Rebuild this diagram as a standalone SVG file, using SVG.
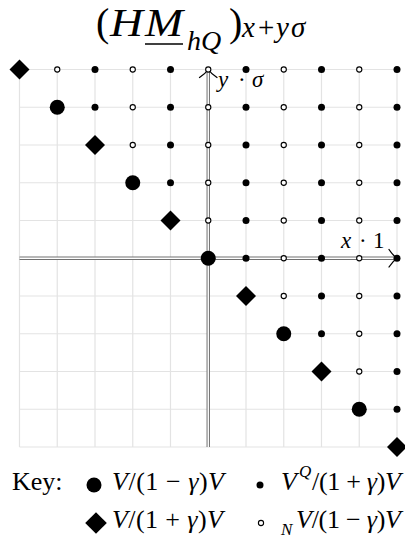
<svg xmlns="http://www.w3.org/2000/svg" xmlns:xlink="http://www.w3.org/1999/xlink" width="405" height="541" viewBox="0 0 405 541">
<style>
.grid line{stroke:#e3e3e3;stroke-width:1.2}
.ax1{stroke:#707070;stroke-width:3.4;fill:none}
.ax2{stroke:#ffffff;stroke-width:1.4;fill:none}
.arr{stroke:#000;stroke-width:1.3;fill:none;stroke-linecap:round}
.t{font-family:"Liberation Serif","Times New Roman",serif;fill:#000}
.i{font-style:italic}
</style>
<defs>
<path id="dia" d="M0,-10 L10,0 L0,10 L-10,0 Z" fill="#000"/>
<circle id="big" r="7.5" fill="#000"/>
<circle id="dot" r="3.5" fill="#000"/>
<circle id="opn" r="2.6" fill="#fff" stroke="#000" stroke-width="1.1"/>
</defs>
<rect width="405" height="541" fill="#fff"/>
<g id="title" class="t">
<text x="96" y="36" font-size="40">(</text>
<text x="110" y="36" font-size="40" class="i" textLength="33" lengthAdjust="spacingAndGlyphs">H</text>
<text x="145" y="36" font-size="40" class="i" textLength="38" lengthAdjust="spacingAndGlyphs">M</text>
<line x1="145" y1="44" x2="183" y2="44" stroke="#000" stroke-width="1.6"/>
<text y="50" font-size="28" class="i"><tspan x="187">h</tspan><tspan x="201">Q</tspan></text>
<text x="229" y="36" font-size="40">)</text>
<text y="37" font-size="29"><tspan x="242" class="i">x</tspan><tspan x="258">+</tspan><tspan x="276" class="i">y</tspan><tspan x="291" class="i">σ</tspan></text>
</g>
<g class="grid" id="grid">
<line x1="19.5" y1="69.5" x2="19.5" y2="447"/>
<line x1="57.25" y1="69.5" x2="57.25" y2="447"/>
<line x1="95" y1="69.5" x2="95" y2="447"/>
<line x1="132.75" y1="69.5" x2="132.75" y2="447"/>
<line x1="170.5" y1="69.5" x2="170.5" y2="447"/>
<line x1="246" y1="69.5" x2="246" y2="447"/>
<line x1="283.75" y1="69.5" x2="283.75" y2="447"/>
<line x1="321.5" y1="69.5" x2="321.5" y2="447"/>
<line x1="359.25" y1="69.5" x2="359.25" y2="447"/>
<line x1="397" y1="69.5" x2="397" y2="447"/>
<line x1="19.5" y1="69.5" x2="397" y2="69.5"/>
<line x1="19.5" y1="107.25" x2="397" y2="107.25"/>
<line x1="19.5" y1="145" x2="397" y2="145"/>
<line x1="19.5" y1="182.75" x2="397" y2="182.75"/>
<line x1="19.5" y1="220.5" x2="397" y2="220.5"/>
<line x1="19.5" y1="296" x2="397" y2="296"/>
<line x1="19.5" y1="333.75" x2="397" y2="333.75"/>
<line x1="19.5" y1="371.5" x2="397" y2="371.5"/>
<line x1="19.5" y1="409.25" x2="397" y2="409.25"/>
<line x1="19.5" y1="447" x2="397" y2="447"/>
</g>
<g id="connectors">
<g id="x-axis">
<line class="ax1" x1="19.5" y1="258.25" x2="396" y2="258.25"/>
<line class="ax2" x1="19.5" y1="258.25" x2="395" y2="258.25"/>
<path class="arr" d="M389,249.5 Q393,255.5 397,258.25 Q393,261 389,267"/>
</g>
<g id="y-axis">
<line class="ax1" x1="208.25" y1="447" x2="208.25" y2="70.5"/>
<line class="ax2" x1="208.25" y1="447" x2="208.25" y2="71.5"/>
<path class="arr" d="M199.5,77.5 Q205.5,73.5 208.25,69.5 Q211,73.5 217,77.5"/>
</g>
</g>
<g id="axis-labels" class="t" font-size="23">
<text y="87"><tspan x="218" class="i">y</tspan><tspan x="238">·</tspan><tspan x="252" class="i">σ</tspan></text>
<text y="248"><tspan x="341" class="i">x</tspan><tspan x="359">·</tspan><tspan x="373">1</tspan></text>
</g>
<g id="nodes">
<g id="n_m5_5" transform="translate(19.5,69.5)"><use xlink:href="#dia"/></g>
<g id="n_m4_5" transform="translate(57.25,69.5)"><use xlink:href="#opn"/></g>
<g id="n_m3_5" transform="translate(95,69.5)"><use xlink:href="#dot"/></g>
<g id="n_m2_5" transform="translate(132.75,69.5)"><use xlink:href="#opn"/></g>
<g id="n_m1_5" transform="translate(170.5,69.5)"><use xlink:href="#dot"/></g>
<g id="n_0_5" transform="translate(208.25,69.5)"><use xlink:href="#opn"/></g>
<g id="n_1_5" transform="translate(246,69.5)"><use xlink:href="#dot"/></g>
<g id="n_2_5" transform="translate(283.75,69.5)"><use xlink:href="#opn"/></g>
<g id="n_3_5" transform="translate(321.5,69.5)"><use xlink:href="#dot"/></g>
<g id="n_4_5" transform="translate(359.25,69.5)"><use xlink:href="#opn"/></g>
<g id="n_5_5" transform="translate(397,69.5)"><use xlink:href="#dot"/></g>

<g id="n_m4_4" transform="translate(57.25,107.25)"><use xlink:href="#big"/></g>
<g id="n_m3_4" transform="translate(95,107.25)"><use xlink:href="#dot"/></g>
<g id="n_m2_4" transform="translate(132.75,107.25)"><use xlink:href="#opn"/></g>
<g id="n_m1_4" transform="translate(170.5,107.25)"><use xlink:href="#dot"/></g>
<g id="n_0_4" transform="translate(208.25,107.25)"><use xlink:href="#opn"/></g>
<g id="n_1_4" transform="translate(246,107.25)"><use xlink:href="#dot"/></g>
<g id="n_2_4" transform="translate(283.75,107.25)"><use xlink:href="#opn"/></g>
<g id="n_3_4" transform="translate(321.5,107.25)"><use xlink:href="#dot"/></g>
<g id="n_4_4" transform="translate(359.25,107.25)"><use xlink:href="#opn"/></g>
<g id="n_5_4" transform="translate(397,107.25)"><use xlink:href="#dot"/></g>

<g id="n_m3_3" transform="translate(95,145)"><use xlink:href="#dia"/></g>
<g id="n_m2_3" transform="translate(132.75,145)"><use xlink:href="#opn"/></g>
<g id="n_m1_3" transform="translate(170.5,145)"><use xlink:href="#dot"/></g>
<g id="n_0_3" transform="translate(208.25,145)"><use xlink:href="#opn"/></g>
<g id="n_1_3" transform="translate(246,145)"><use xlink:href="#dot"/></g>
<g id="n_2_3" transform="translate(283.75,145)"><use xlink:href="#opn"/></g>
<g id="n_3_3" transform="translate(321.5,145)"><use xlink:href="#dot"/></g>
<g id="n_4_3" transform="translate(359.25,145)"><use xlink:href="#opn"/></g>
<g id="n_5_3" transform="translate(397,145)"><use xlink:href="#dot"/></g>

<g id="n_m2_2" transform="translate(132.75,182.75)"><use xlink:href="#big"/></g>
<g id="n_m1_2" transform="translate(170.5,182.75)"><use xlink:href="#dot"/></g>
<g id="n_0_2" transform="translate(208.25,182.75)"><use xlink:href="#opn"/></g>
<g id="n_1_2" transform="translate(246,182.75)"><use xlink:href="#dot"/></g>
<g id="n_2_2" transform="translate(283.75,182.75)"><use xlink:href="#opn"/></g>
<g id="n_3_2" transform="translate(321.5,182.75)"><use xlink:href="#dot"/></g>
<g id="n_4_2" transform="translate(359.25,182.75)"><use xlink:href="#opn"/></g>
<g id="n_5_2" transform="translate(397,182.75)"><use xlink:href="#dot"/></g>

<g id="n_m1_1" transform="translate(170.5,220.5)"><use xlink:href="#dia"/></g>
<g id="n_0_1" transform="translate(208.25,220.5)"><use xlink:href="#opn"/></g>
<g id="n_1_1" transform="translate(246,220.5)"><use xlink:href="#dot"/></g>
<g id="n_2_1" transform="translate(283.75,220.5)"><use xlink:href="#opn"/></g>
<g id="n_3_1" transform="translate(321.5,220.5)"><use xlink:href="#dot"/></g>
<g id="n_4_1" transform="translate(359.25,220.5)"><use xlink:href="#opn"/></g>
<g id="n_5_1" transform="translate(397,220.5)"><use xlink:href="#dot"/></g>

<g id="n_0_0" transform="translate(208.25,258.25)"><use xlink:href="#big"/></g>
<g id="n_1_0" transform="translate(246,258.25)"><use xlink:href="#dot"/></g>
<g id="n_2_0" transform="translate(283.75,258.25)"><use xlink:href="#opn"/></g>
<g id="n_3_0" transform="translate(321.5,258.25)"><use xlink:href="#dot"/></g>
<g id="n_4_0" transform="translate(359.25,258.25)"><use xlink:href="#opn"/></g>
<g id="n_5_0" transform="translate(397,258.25)"><use xlink:href="#dot"/></g>

<g id="n_1_m1" transform="translate(246,296)"><use xlink:href="#dia"/></g>
<g id="n_2_m1" transform="translate(283.75,296)"><use xlink:href="#opn"/></g>
<g id="n_3_m1" transform="translate(321.5,296)"><use xlink:href="#dot"/></g>
<g id="n_4_m1" transform="translate(359.25,296)"><use xlink:href="#opn"/></g>
<g id="n_5_m1" transform="translate(397,296)"><use xlink:href="#dot"/></g>

<g id="n_2_m2" transform="translate(283.75,333.75)"><use xlink:href="#big"/></g>
<g id="n_3_m2" transform="translate(321.5,333.75)"><use xlink:href="#dot"/></g>
<g id="n_4_m2" transform="translate(359.25,333.75)"><use xlink:href="#opn"/></g>
<g id="n_5_m2" transform="translate(397,333.75)"><use xlink:href="#dot"/></g>

<g id="n_3_m3" transform="translate(321.5,371.5)"><use xlink:href="#dia"/></g>
<g id="n_4_m3" transform="translate(359.25,371.5)"><use xlink:href="#opn"/></g>
<g id="n_5_m3" transform="translate(397,371.5)"><use xlink:href="#dot"/></g>

<g id="n_4_m4" transform="translate(359.25,409.25)"><use xlink:href="#big"/></g>
<g id="n_5_m4" transform="translate(397,409.25)"><use xlink:href="#dot"/></g>

<g id="n_5_m5" transform="translate(397,447)"><use xlink:href="#dia"/></g>
</g>
<g id="key" class="t" font-size="26">
<text x="12" y="490">Key:</text>
<g transform="translate(94,485)"><use xlink:href="#big"/></g>
<text y="490" textLength="112" x="112"><tspan class="i">V</tspan>/(1 − <tspan class="i">γ</tspan>)<tspan class="i">V</tspan></text>
<g transform="translate(260,485)"><use xlink:href="#dot"/></g>
<text y="490" x="281" class="i">V</text>
<text y="477" x="299" class="i" font-size="17">Q</text>
<text y="490" x="312" textLength="89"><tspan>/(1 + </tspan><tspan class="i">γ</tspan>)<tspan class="i">V</tspan></text>
<g transform="translate(96,523) scale(1.08)"><use xlink:href="#dia"/></g>
<text y="528" textLength="111" x="112"><tspan class="i">V</tspan>/(1 + <tspan class="i">γ</tspan>)<tspan class="i">V</tspan></text>
<g transform="translate(261,523)"><use xlink:href="#opn"/></g>
<text y="535" x="281" class="i" font-size="17">N</text>
<text y="528" textLength="105" x="296"><tspan class="i">V</tspan>/(1 − <tspan class="i">γ</tspan>)<tspan class="i">V</tspan></text>
</g>
</svg>
